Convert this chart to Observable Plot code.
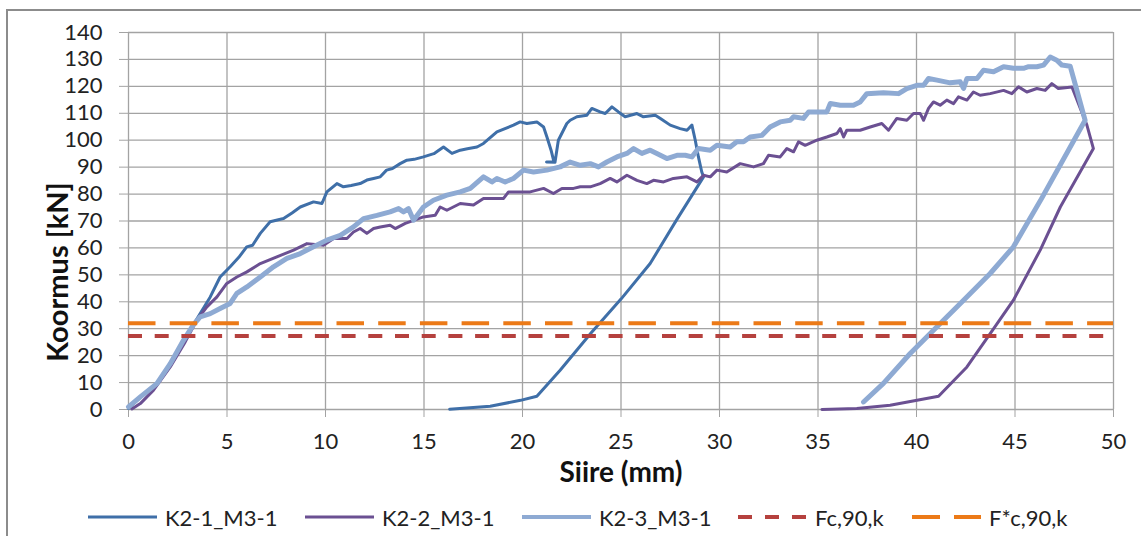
<!DOCTYPE html>
<html>
<head>
<meta charset="utf-8">
<script src="https://cdn.jsdelivr.net/npm/d3@7"></script>
<script src="https://cdn.jsdelivr.net/npm/@observablehq/plot@0.6"></script>
<style>
  html, body { margin: 0; padding: 0; background: #fff; width: 1141px; height: 536px; overflow: hidden; }
  #frame { position: absolute; left: 6px; top: 9px; width: 1200px; height: 600px; border: 2px solid #8c8c8c; box-sizing: border-box; }
  #chart { position: absolute; left: 0; top: 0; }
  #legend { position: absolute; left: 0; top: 500px; width: 1141px; height: 34px;
            font-family: Lato, "Open Sans", sans-serif; font-size: 22px; color: #222; }
  .item { position: absolute; top: 0; height: 34px; display: flex; align-items: center; white-space: nowrap; }
  .item svg { margin-right: 8px; }
</style>
</head>
<body>
<div id="frame"></div>
<div id="chart"></div>
<div id="legend"></div>
<script>
// Displacement (mm) vs. load (kN) for three specimens, loading then unloading
const k21 = [
  [0,0.4],[0.6,4.5],[1.4,9.3],[2.1,16.8],[2.8,25.5],[3.5,34],[4.15,41.8],[4.65,49.2],[5.16,53],[5.6,56.5],
  [6.0,60.4],[6.3,61],[6.69,65.4],[7.19,69.7],[7.87,70.9],[8.3,73],[8.72,75.2],[9.39,77.1],[9.82,76.5],[10.07,80.8],
  [10.58,83.9],[10.91,82.7],[11.3,83.2],[11.76,83.9],[12.1,85.2],[12.44,85.8],[12.78,86.4],[13.1,88.9],[13.4,89.5],[13.79,91.3],
  [14.13,92.6],[14.5,92.9],[14.97,93.8],[15.5,95],[15.99,97.5],[16.42,95.1],[16.84,96.3],[17.2,96.8],[17.69,97.5],[18.02,98.8],
  [18.7,103.1],[19.54,105.6],[19.88,106.8],[20.22,106.2],[20.73,106.8],[21.07,104.9],[21.24,101.2],[21.45,96.3],[21.6,91.9],[21.22,91.9],
  [21.65,91.8],[21.82,100],[22.25,106.2],[22.42,107.4],[22.76,108.7],[23.27,109.3],[23.52,111.8],[23.94,110.5],[24.2,109.9],[24.54,112.4],
  [24.87,110.5],[25.21,108.7],[25.81,109.9],[26.14,108.7],[26.74,109.3],[27.0,108.1],[27.5,105.6],[28.0,104.3],[28.35,103.7],[28.6,105.6],
  [28.77,100],[28.93,93.8],[29.1,88.2],[29.19,86.4],
  [27.83,70.5],[26.48,54.2],[25.0,41.0],[23.5,28.6],[21.91,14.6],[20.73,4.9],[19.9,3.4],[18.36,1.2],[16.3,0.1]
];
const k22 = [
  [0.17,0.2],[0.6,2.2],[1.27,7.2],[2.12,15.8],[2.88,25.1],[3.47,33.2],[3.98,38.1],[4.49,41.8],[4.99,46.8],[5.5,49.2],
  [6.01,51.1],[6.69,54.2],[7.53,56.7],[8.38,59.2],[9.06,61.6],[9.9,61],[10.41,63.5],[11.09,63.5],[11.42,65.9],[11.76,67.2],
  [12.1,65.4],[12.44,67.2],[12.78,67.8],[13.28,68.4],[13.54,67.2],[14.05,69.1],[14.97,71.5],[15.57,72.1],[15.82,75.2],[16.16,74.0],
  [16.84,76.5],[17.51,75.9],[18.02,78.4],[19.04,78.4],[19.29,80.8],[20.39,80.8],[21.07,82.1],[21.57,80.2],[22.0,82.1],[22.59,82.1],
  [22.93,82.7],[23.44,82.7],[23.94,83.9],[24.45,85.8],[24.79,84.5],[25.3,87],[25.81,85.1],[26.31,83.9],[26.65,85.1],[27.16,84.5],
  [27.66,85.8],[28.35,86.4],[28.85,84.5],[29.19,87],[29.53,86.4],[29.87,88.9],[30.37,88.2],[31.05,91.3],[31.73,90.1],[32.23,91.3],
  [32.49,94.4],[33.08,93.8],[33.42,96.9],[33.76,95.7],[34.01,99.4],[34.35,98.1],[34.94,100],[35.45,101.2],[35.96,102.5],[36.13,104.3],
  [36.3,101.2],[36.46,103.7],[37.14,103.7],[37.65,104.9],[38.24,106.2],[38.58,103.7],[39.0,108.1],[39.51,107.4],[39.85,109.9],[40.19,109.9],
  [40.36,107.4],[40.61,111.8],[40.86,114.2],[41.2,113],[41.54,114.9],[41.88,113.6],[42.13,116.1],[42.56,114.9],[42.89,117.9],[43.23,116.7],
  [43.74,117.3],[44.42,118.5],[44.84,117.3],[45.18,119.8],[45.6,117.9],[46.11,119.2],[46.53,118.5],[46.87,121],[47.2,119.2],[47.89,119.8],
  [48.65,105.6],[48.98,96.9],
  [47.3,75.2],[46.28,59.2],[44.92,40.6],[43.74,28.2],[42.56,15.8],[41.12,4.9],[38.66,1.6],[36.97,0.4],[35.2,0]
];
const k23 = [
  [0,1.0],[0.6,4.7],[1.44,9.6],[2.12,17],[2.79,25.7],[3.3,31.5],[3.64,34.4],[4.15,35.6],[4.65,37.5],[5.16,39.4],
  [5.5,43.1],[6.01,45.5],[6.69,49.2],[7.36,53],[8.04,56.1],[8.72,57.9],[9.39,60.4],[10.07,62.9],[10.75,64.7],[11.42,67.8],
  [11.93,70.9],[12.61,72.1],[13.28,73.4],[13.71,74.6],[13.96,73.4],[14.21,74.6],[14.47,70.3],[14.97,75.2],[15.48,77.7],[16.16,79.6],
  [16.84,80.8],[17.35,82.1],[18.02,86.4],[18.45,84.5],[18.7,85.8],[19.12,84.5],[19.54,85.8],[20.05,88.9],[20.56,88.2],[21.24,88.9],
  [21.91,90.1],[22.42,91.9],[22.93,90.7],[23.44,91.3],[23.86,90.1],[24.28,91.9],[24.79,93.8],[25.3,95.1],[25.64,96.9],[26.06,95.1],
  [26.48,96.3],[26.82,95.1],[27.33,93.2],[27.84,94.4],[28.26,94.4],[28.6,93.8],[28.93,96.9],[29.53,96.3],[29.87,98.1],[30.54,97.5],
  [30.88,99.4],[31.22,99.4],[31.56,101.2],[32.15,101.8],[32.57,104.9],[33.08,106.8],[33.59,107.4],[33.76,108.7],[34.26,108.1],[34.52,110.5],
  [35.45,110.5],[35.62,113.6],[36.13,113],[36.8,113],[37.14,114.2],[37.48,117.3],[38.32,117.6],[39.09,117.3],[39.51,119.2],[40.02,120.4],
  [40.36,120.4],[40.61,122.9],[41.04,122.3],[41.71,121.3],[42.22,121.7],[42.39,119.2],[42.56,122.9],[43.07,122.9],[43.4,126],[43.91,125.4],
  [44.42,127.3],[44.92,126.7],[45.43,126.7],[45.69,127.3],[46.11,127.3],[46.45,127.9],[46.79,130.9],[47.12,129.7],[47.38,127.9],[47.8,127.5],
  [48.14,118.6],[48.56,107.4],
  [46.36,78.5],[44.92,60.4],[43.74,50.5],[42.39,40.6],[41.04,30.7],[39.68,20.8],[38.32,9.7],[37.31,2.8]
];

// Characteristic compression strengths perpendicular to grain (kN)
const fc90k = 27.3;
const fStarC90k = 32.0;

const xTicks = [0, 5, 10, 15, 20, 25, 30, 35, 40, 45, 50];
const yTicks = [0, 10, 20, 30, 40, 50, 60, 70, 80, 90, 100, 110, 120, 130, 140];

const seriesNames = ["K2-1_M3-1", "K2-2_M3-1", "K2-3_M3-1", "Fc,90,k", "F*c,90,k"];
const seriesColors = ["#3f6fa8", "#6b5092", "#8eaad3", "#b5413e", "#ec7a17"];
const seriesWidths = [3, 3, 5, 4, 4];
const seriesDashes = [null, null, null, "14,12.7", "27.5,14.2"];

const font = "Lato, 'Open Sans', sans-serif";
const grid = "#a3a3a3";

const lineOpts = (i) => ({
  x: d => d[0], y: d => d[1],
  stroke: seriesColors[i], strokeWidth: seriesWidths[i],
  strokeLinejoin: "round", strokeLinecap: "round"
});

const chart = Plot.plot({
  width: 1141,
  height: 490,
  marginLeft: 128,
  marginRight: 28,
  marginTop: 32,
  marginBottom: 81,
  style: { fontFamily: font, background: "transparent", color: "#222" },
  x: { domain: [0, 50] },
  y: { domain: [0, 140] },
  marks: [
    Plot.gridX(xTicks, { stroke: grid, strokeOpacity: 1, strokeWidth: 1.3 }),
    Plot.gridY(yTicks, { stroke: grid, strokeOpacity: 1, strokeWidth: 1.3 }),
    Plot.axisX({ ticks: xTicks, tickSize: 8, tickPadding: 16, fontSize: 22, stroke: grid, fill: "#222", label: null }),
    Plot.axisY({ ticks: yTicks, tickSize: 9, tickPadding: 17, fontSize: 22, stroke: grid, fill: "#222", label: null }),
    Plot.line(k21, lineOpts(0)),
    Plot.line(k22, lineOpts(1)),
    Plot.line(k23, lineOpts(2)),
    Plot.ruleY([fc90k], { stroke: seriesColors[3], strokeWidth: seriesWidths[3], strokeDasharray: seriesDashes[3] }),
    Plot.ruleY([fStarC90k], { stroke: seriesColors[4], strokeWidth: seriesWidths[4], strokeDasharray: seriesDashes[4] }),
    Plot.text(["Koormus [kN]"], { text: d => d, frameAnchor: "left", textAnchor: "middle", rotate: -90,
      dx: -70, dy: 51, fontSize: 29, fontWeight: "bold", fill: "#111" }),
    Plot.text(["Siire (mm)"], { text: d => d, frameAnchor: "bottom", textAnchor: "middle",
      dy: 72, fontSize: 28, fontWeight: "bold", fill: "#111" })
  ]
});
document.getElementById("chart").appendChild(chart);

// Legend below the chart: a line sample followed by the series name
const legendLeft = [88, 305, 522, 738, 912];
const legend = document.getElementById("legend");
const ns = "http://www.w3.org/2000/svg";
seriesNames.forEach((name, i) => {
  const item = document.createElement("div");
  item.className = "item";
  item.style.left = legendLeft[i] + "px";
  const svg = document.createElementNS(ns, "svg");
  svg.setAttribute("width", 69);
  svg.setAttribute("height", 10);
  const ln = document.createElementNS(ns, "line");
  ln.setAttribute("x1", 0); ln.setAttribute("x2", 69);
  ln.setAttribute("y1", 5); ln.setAttribute("y2", 5);
  ln.setAttribute("stroke", seriesColors[i]);
  ln.setAttribute("stroke-width", Math.min(seriesWidths[i], 4));
  if (seriesDashes[i]) ln.setAttribute("stroke-dasharray", i === 3 ? "14,13" : "28,14");
  svg.appendChild(ln);
  const label = document.createElement("span");
  label.textContent = name;
  item.appendChild(svg);
  item.appendChild(label);
  legend.appendChild(item);
});
</script>
</body>
</html>
